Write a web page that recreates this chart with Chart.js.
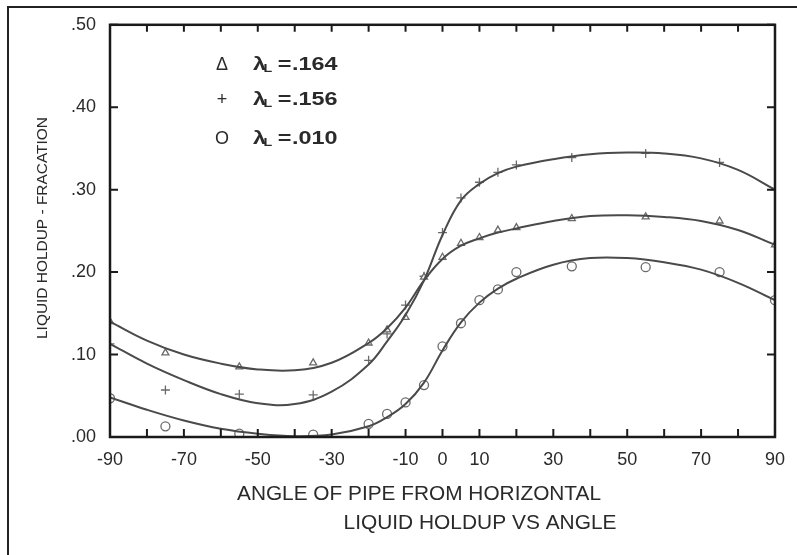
<!DOCTYPE html>
<html>
<head>
<meta charset="utf-8">
<script src="https://cdn.jsdelivr.net/npm/chart.js@4.4.0/dist/chart.umd.min.js"></script>
<style>
html, body { margin: 0; padding: 0; background: #fff; }
#wrap { width: 797px; height: 555px; }
</style>
</head>
<body>
<div id="wrap"><canvas id="myChart" width="797" height="555"></canvas></div>
<script>
// angles where the measured points sit
const markerAngles = [-90, -75, -55, -35, -20, -15, -10, -5, 0, 5, 10, 15, 20, 35, 55, 75, 90];
const triMarks    = [0.140, 0.102, 0.085, 0.090, 0.114, 0.130, 0.145, 0.194, 0.218, 0.235, 0.242, 0.251, 0.254, 0.265, 0.267, 0.262, 0.233];
const plusMarks   = [0.113, 0.057, 0.052, 0.051, 0.093, 0.125, 0.160, 0.195, 0.248, 0.290, 0.309, 0.321, 0.330, 0.339, 0.344, 0.333, 0.300];
const circleMarks = [0.047, 0.013, 0.004, 0.003, 0.016, 0.028, 0.042, 0.063, 0.110, 0.138, 0.166, 0.179, 0.200, 0.207, 0.206, 0.200, 0.166];

// fitted curves
const curveAngles = [-90, -80, -70, -60, -50, -40, -30, -20, -15, -10, -5, 0, 5, 10, 15, 20, 30, 40, 50, 60, 70, 80, 90];
const triCurve    = [0.140, 0.117, 0.100, 0.089, 0.082, 0.081, 0.090, 0.114, 0.132, 0.157, 0.190, 0.216, 0.232, 0.241, 0.248, 0.253, 0.262, 0.268, 0.269, 0.267, 0.262, 0.251, 0.233];
const plusCurve   = [0.113, 0.089, 0.069, 0.052, 0.041, 0.040, 0.055, 0.088, 0.116, 0.148, 0.190, 0.245, 0.287, 0.307, 0.320, 0.328, 0.337, 0.343, 0.345, 0.344, 0.338, 0.324, 0.300];
const circleCurve = [0.048, 0.033, 0.020, 0.010, 0.004, 0.001, 0.003, 0.013, 0.024, 0.040, 0.066, 0.105, 0.139, 0.163, 0.180, 0.192, 0.209, 0.217, 0.217, 0.212, 0.203, 0.187, 0.166];

const xLabels = [-90, -70, -50, -30, -10, 0, 10, 30, 50, 70, 90];
const legendLabels = ['.164', '.156', '.010'];
const legendSymbols = ['\u0394', '+', 'O'];

function pts(xs, ys) {
    return xs.map(function(x, i){ return {x: x, y: ys[i]}; });
}

const FONT = "'Liberation Sans', Arial, sans-serif";

function curve(data) {
    return {
        type: 'line', data: data, showLine: true, pointRadius: 0,
        borderColor: '#4a4a4a', borderWidth: 2, tension: 0.4, fill: false
    };
}
function marks(data, style, r) {
    return {
        type: 'scatter', data: data, showLine: false, pointStyle: style, pointRadius: r,
        borderColor: '#6a6a6a', borderWidth: 1.3, backgroundColor: 'rgba(255,255,255,0.9)'
    };
}

const frame = {
    id: 'frame',
    afterDraw: function(chart) {
        const ctx = chart.ctx;
        const a = chart.chartArea;
        const xs = chart.scales.x, ys = chart.scales.y;
        ctx.save();
        // outer border of the figure
        ctx.strokeStyle = '#222';
        ctx.lineWidth = 2;
        ctx.beginPath();
        ctx.moveTo(8, 555); ctx.lineTo(8, 7); ctx.lineTo(797, 7);
        ctx.stroke();
        // plot box
        ctx.strokeStyle = '#1a1a1a';
        ctx.lineWidth = 2.5;
        ctx.strokeRect(a.left, a.top, a.right - a.left, a.bottom - a.top);
        // inward ticks
        ctx.lineWidth = 2;
        ctx.beginPath();
        xs.ticks.forEach(function(t){
            const px = xs.getPixelForValue(t.value);
            ctx.moveTo(px, a.bottom); ctx.lineTo(px, a.bottom - 8);
            ctx.moveTo(px, a.top); ctx.lineTo(px, a.top + 7);
        });
        ys.ticks.forEach(function(t){
            const py = ys.getPixelForValue(t.value);
            ctx.moveTo(a.left, py); ctx.lineTo(a.left + 8, py);
            ctx.moveTo(a.right, py); ctx.lineTo(a.right - 8, py);
        });
        ctx.stroke();
        // axis titles
        ctx.fillStyle = '#2a2a2a';
        ctx.textAlign = 'center';
        ctx.textBaseline = 'middle';
        ctx.font = '21px ' + FONT;
        ctx.fillText('ANGLE OF PIPE FROM HORIZONTAL', 419, 494, 364);
        ctx.fillText('LIQUID HOLDUP VS ANGLE', 480, 523, 273);
        ctx.save();
        ctx.translate(43, 228);
        ctx.rotate(-Math.PI / 2);
        ctx.font = '15.5px ' + FONT;
        ctx.fillText('LIQUID HOLDUP - FRACATION', 0, 0, 222);
        ctx.restore();
        // legend
        const rows = [65, 100, 139];
        rows.forEach(function(y, i){
            ctx.textAlign = 'center';
            ctx.font = '18px ' + FONT;
            ctx.fillText(legendSymbols[i], 222, y);
            ctx.save();
            ctx.translate(253, y);
            ctx.scale(1.3, 1);
            ctx.textAlign = 'left';
            ctx.font = 'bold 18px ' + FONT;
            ctx.fillText('\u03BB', 0, 0);
            ctx.font = 'bold 11px ' + FONT;
            ctx.fillText('L', 8, 4);
            ctx.font = 'bold 18px ' + FONT;
            ctx.fillText('=', 19, 0);
            ctx.fillText(legendLabels[i], 30, 0);
            ctx.restore();
        });
        ctx.restore();
    }
};

const ctx = document.getElementById('myChart');
const myChart = new Chart(ctx, {
    data: {
        datasets: [
            curve(pts(curveAngles, triCurve)),
            curve(pts(curveAngles, plusCurve)),
            curve(pts(curveAngles, circleCurve)),
            marks(pts(markerAngles, triMarks), 'triangle', 4),
            marks(pts(markerAngles, plusMarks), 'cross', 4.5),
            marks(pts(markerAngles, circleMarks), 'circle', 4.5)
        ]
    },
    options: {
        responsive: false,
        animation: false,
        devicePixelRatio: 1,
        layout: { padding: { left: 0, top: 24, right: 14, bottom: 0 } },
        plugins: { legend: { display: false }, tooltip: { enabled: false } },
        scales: {
            x: {
                type: 'linear', min: -90, max: 90,
                grid: { display: false, drawTicks: false },
                border: { display: false },
                ticks: {
                    stepSize: 10, autoSkip: false, maxRotation: 0, padding: 12,
                    color: '#2a2a2a', font: { family: FONT, size: 18 },
                    callback: function(v){ return xLabels.indexOf(v) >= 0 ? String(v) : ''; }
                },
                afterFit: function(scale){ scale.height = 118; }
            },
            y: {
                type: 'linear', min: 0, max: 0.5,
                grid: { display: false, drawTicks: false },
                border: { display: false },
                ticks: {
                    stepSize: 0.1, padding: 14,
                    color: '#2a2a2a', font: { family: FONT, size: 18 },
                    callback: function(v){ return v.toFixed(2).replace('0.', '.'); }
                },
                afterFit: function(scale){ scale.width = 110; }
            }
        }
    },
    plugins: [frame]
});
</script>
</body>
</html>
